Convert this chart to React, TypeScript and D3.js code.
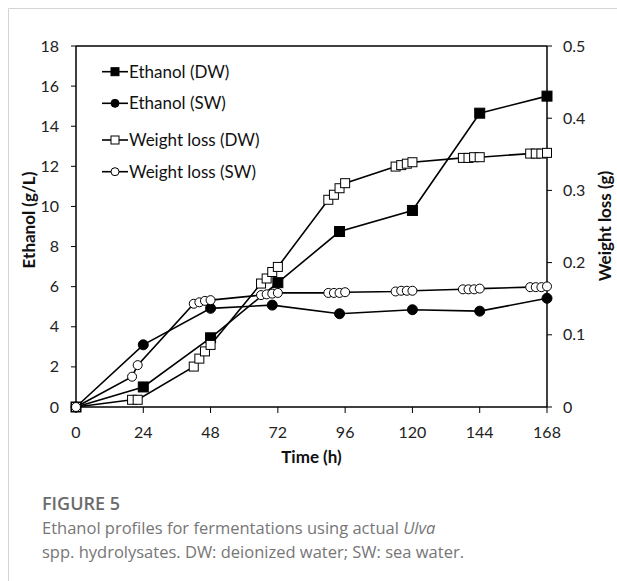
import React from "react";
import * as d3 from "d3";

// ---- data ----
const ethanolTimesDW = [0, 24, 48, 72, 94, 120, 144, 168];
const ethanolDW = [0, 1.0, 3.45, 6.2, 8.75, 9.8, 14.65, 15.5];
const ethanolTimesSW = [0, 24, 48, 70, 94, 120, 144, 168];
const ethanolSW = [0, 3.1, 4.92, 5.08, 4.65, 4.85, 4.78, 5.42];
const weightTimes = [0, 20, 22, 42, 44, 46, 48, 66, 68, 70, 72, 90, 92, 94, 96, 114, 116, 118, 120, 138, 140, 142, 144, 162, 164, 166, 168];
const weightDW = [0, 0.01, 0.01, 0.056, 0.067, 0.077, 0.086, 0.171, 0.178, 0.187, 0.194, 0.287, 0.294, 0.303, 0.31, 0.333, 0.335, 0.337, 0.339, 0.345, 0.345, 0.346, 0.346, 0.351, 0.351, 0.351, 0.352];
const weightSW = [0, 0.042, 0.058, 0.143, 0.145, 0.147, 0.148, 0.155, 0.156, 0.157, 0.158, 0.158, 0.158, 0.158, 0.159, 0.16, 0.161, 0.161, 0.161, 0.163, 0.163, 0.163, 0.164, 0.166, 0.166, 0.166, 0.167];
const xTicks = [0, 24, 48, 72, 96, 120, 144, 168];
const yLeftTicks = [0, 2, 4, 6, 8, 10, 12, 14, 16, 18];
const yRightTicks = [0, 0.1, 0.2, 0.3, 0.4, 0.5];
const legendLabels = ["Ethanol (DW)", "Ethanol (SW)", "Weight loss (DW)", "Weight loss (SW)"];

const W = 617, H = 581;
const FONT = "Lato, 'Open Sans', sans-serif";

export default function App() {
  const x = d3.scaleLinear().domain([0, 168]).range([76, 547]);
  const yL = d3.scaleLinear().domain([0, 18]).range([407, 46]);
  const yR = d3.scaleLinear().domain([0, 0.5]).range([407, 46]);

  const series = [
    { t: ethanolTimesDW, v: ethanolDW, y: yL, shape: "square", fill: "#000" },
    { t: ethanolTimesSW, v: ethanolSW, y: yL, shape: "circle", fill: "#000" },
    { t: weightTimes, v: weightDW, y: yR, shape: "square", fill: "#fff" },
    { t: weightTimes, v: weightSW, y: yR, shape: "circle", fill: "#fff" },
  ];

  const marker = (shape: string, fill: string, cx: number, cy: number, s: number, key: any) =>
    shape === "square" ? (
      <rect key={key} x={cx - s / 2} y={cy - s / 2} width={s} height={s} fill={fill} stroke="#000" strokeWidth={1} />
    ) : (
      <circle key={key} cx={cx} cy={cy} r={s / 2} fill={fill} stroke="#000" strokeWidth={1} />
    );

  const legendY = [71.7, 103.3, 140, 171.7];

  return (
    <svg width={W} height={H} style={{ position: "absolute", left: 0, top: 0, display: "block", background: "#fff" }}>
      {/* page frame */}
      <line x1={8.5} y1={8.5} x2={W} y2={8.5} stroke="#d4d4d4" strokeWidth={1} />
      <line x1={8.5} y1={8.5} x2={8.5} y2={H} stroke="#d4d4d4" strokeWidth={1} />

      {/* axes box */}
      <line x1={76} y1={46} x2={547} y2={46} stroke="#000" strokeWidth={1.5} />
      <line x1={76} y1={46} x2={76} y2={407} stroke="#000" strokeWidth={1.5} />
      <line x1={547} y1={46} x2={547} y2={407} stroke="#000" strokeWidth={1.5} />
      <line x1={76} y1={407} x2={547} y2={407} stroke="#000" strokeWidth={1.5} />

      {xTicks.map((t) => (
        <g key={"xt" + t}>
          <line x1={x(t)} x2={x(t)} y1={407} y2={413} stroke="#000" strokeWidth={1} />
          <text x={x(t)} y={438} textAnchor="middle" fontFamily={FONT} fontSize={16} fill="#222">{t}</text>
        </g>
      ))}
      {yLeftTicks.map((v) => (
        <g key={"yl" + v}>
          <line x1={71} x2={76} y1={yL(v)} y2={yL(v)} stroke="#000" strokeWidth={1} />
          <text x={59} y={yL(v) + 5.5} textAnchor="end" fontFamily={FONT} fontSize={16} fill="#222">{v}</text>
        </g>
      ))}
      {yRightTicks.map((v) => (
        <g key={"yr" + v}>
          <line x1={547} x2={552} y1={yR(v)} y2={yR(v)} stroke="#000" strokeWidth={1} />
          <text x={563} y={yR(v) + 5.5} textAnchor="start" fontFamily={FONT} fontSize={16} fill="#222">{v}</text>
        </g>
      ))}

      <text x={311.5} y={463} textAnchor="middle" fontFamily={FONT} fontSize={17} fontWeight="bold" fill="#111">Time (h)</text>
      <text transform={`translate(35,220) rotate(-90)`} textAnchor="middle" fontFamily={FONT} fontSize={17} fontWeight="bold" fill="#111">Ethanol (g/L)</text>
      <text transform={`translate(611,226) rotate(-90)`} textAnchor="middle" fontFamily={FONT} fontSize={17} fontWeight="bold" fill="#111">Weight loss (g)</text>

      {/* series */}
      {series.map((s, i) => {
        const pts = s.t.map((t, j) => [x(t), s.y(s.v[j])] as [number, number]);
        const path = d3.line()(pts) || "";
        return (
          <g key={"s" + i}>
            <path d={path} fill="none" stroke="#000" strokeWidth={1.6} />
            {pts.map((p, j) => marker(s.shape, s.fill, p[0], p[1], s.fill === "#000" ? 10 : 9, j))}
          </g>
        );
      })}

      {/* legend */}
      {legendLabels.map((lab, i) => (
        <g key={"lg" + i}>
          <line x1={102} x2={128} y1={legendY[i]} y2={legendY[i]} stroke="#000" strokeWidth={1.6} />
          {marker(series[i].shape, series[i].fill, 115, legendY[i], 8, "m")}
          <text x={129} y={legendY[i] + 6} fontFamily={FONT} fontSize={17} fill="#111">{lab}</text>
        </g>
      ))}

      {/* caption */}
      <text x={42} y={510} fontFamily="'Open Sans', sans-serif" fontSize={18} fontWeight={600} fill="#6b6b6b">FIGURE 5</text>
      <text x={42} y={534} fontFamily="'Open Sans', sans-serif" fontSize={16.5} fill="#767676">
        Ethanol profiles for fermentations using actual <tspan fontStyle="italic">Ulva</tspan>
      </text>
      <text x={42} y={558} fontFamily="'Open Sans', sans-serif" fontSize={16.5} fill="#767676">
        spp. hydrolysates. DW: deionized water; SW: sea water.
      </text>
    </svg>
  );
}
